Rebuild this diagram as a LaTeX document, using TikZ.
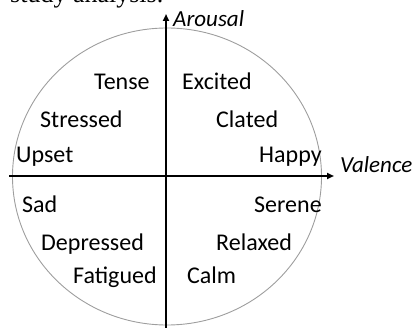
\documentclass[tikz,border=0pt]{standalone}
\usepackage{fontspec}
\setmainfont{Carlito}
\newfontfamily\serifcap{Liberation Serif}
\usetikzlibrary{arrows.meta}
\begin{document}
\begin{tikzpicture}[x=1pt,y=-1pt,
  lbl/.style={inner sep=0pt,anchor=base west,font=\fontsize{24}{28}\selectfont},
  axlbl/.style={inner sep=0pt,anchor=base west,font=\fontsize{23}{27}\selectfont\itshape},
  axis/.style={line width=1.8pt,-{Triangle[length=7pt,width=6pt]}}]
\useasboundingbox (0,0) rectangle (419,328);
\clip (0,0) rectangle (419,328);
\node[inner sep=0pt,anchor=base west,font=\serifcap\fontsize{26}{30}\selectfont] (cap) at (10,3) {study analysis.};
\draw[draw=black!38,line width=0.9pt] (167,176.5) ellipse [x radius=154.5pt,y radius=148.5pt];
\coordinate (hs) at (9,176);
\coordinate (he) at (334,176);
\coordinate (vs) at (166,330);
\coordinate (ve) at (166,14);
\draw[axis] (hs) -- (he);
\draw[axis] (vs) -- (ve);
\node[axlbl] (ar) at (173,27) {Arousal};
\node[axlbl] (va) at (340,173) {Valence};
\node[lbl] (tense) at (94,90) {Tense};
\node[lbl] (excited) at (182,90) {Excited};
\node[lbl] (stressed) at (40,128) {Stressed};
\node[lbl] (clated) at (216,128) {Clated};
\node[lbl] (upset) at (16,163) {Upset};
\node[lbl] (happy) at (259,163) {Happy};
\node[lbl] (sad) at (22,212) {Sad};
\node[lbl] (serene) at (254,212) {Serene};
\node[lbl] (depressed) at (41,250) {Depressed};
\node[lbl] (relaxed) at (216,250) {Relaxed};
\node[lbl] (fatigued) at (73,283) {Fatigued};
\node[lbl] (calm) at (187,283) {Calm};
\end{tikzpicture}
\end{document}
